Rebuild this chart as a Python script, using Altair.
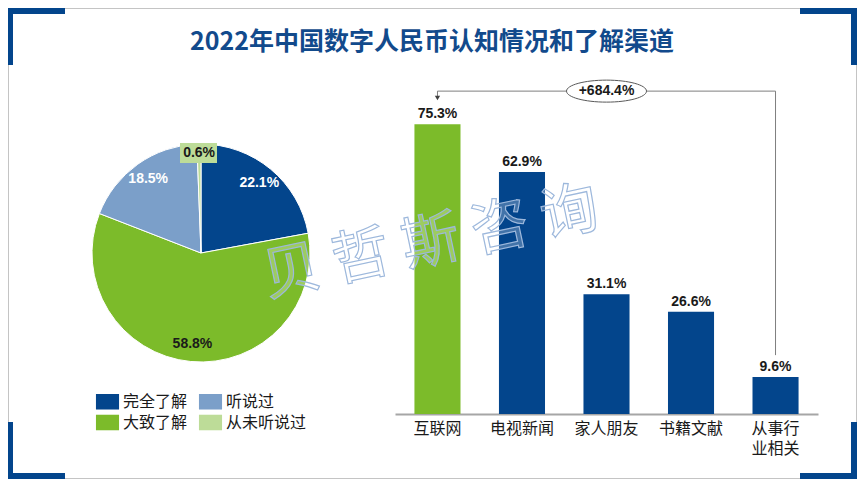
import altair as alt
import pandas as pd

# 认知情况（饼图）
aware_cat = ['完全了解', '大致了解', '听说过', '从未听说过']
aware_pct = [22.1, 58.8, 18.5, 0.6]

# 了解渠道（柱状图）
channel_cat = ['互联网', '电视新闻', '家人朋友', '书籍文献', '从事行业相关']
channel_pct = [75.3, 62.9, 31.1, 26.6, 9.6]
growth_label = '+684.4%'

title_text = '2022年中国数字人民币认知情况和了解渠道'
watermark = '贝 哲 斯 咨 询'

BLUE = '#03458C'
GREEN = '#7CBB2A'
LIGHT_BLUE = '#7B9FC9'
LIGHT_GREEN = '#BDDC98'
DARK = '#1a1a1a'
NUM_FONT = 'Liberation Sans'
CJK_FONT = 'Noto Sans CJK SC'

W, H = 849, 471          # whole chart
LEFT_W, RIGHT_W, PANEL_H = 387, 423, 406
CX, CY = 193, 245        # pie centre

pie_df = pd.DataFrame({'cat': aware_cat, 'pct': aware_pct, 'idx': range(len(aware_cat))})
pie_df['label'] = pie_df['pct'].map(lambda v: f'{v:.1f}%')

bar_df = pd.DataFrame({'cat': channel_cat, 'pct': channel_pct})
bar_df['label'] = bar_df['pct'].map(lambda v: f'{v:.1f}%')

top_v = max(channel_pct) + 8.6
bracket_df = pd.DataFrame({
    'cat': [channel_cat[0], channel_cat[0], channel_cat[-1], channel_cat[-1]],
    'pct': [top_v - 1.8, top_v, top_v, min(channel_pct) + 5.7],
    'step': [0, 1, 2, 3],
})
arrow_df = pd.DataFrame({'cat': [channel_cat[0]], 'pct': [top_v - 1.8]})
growth_df = pd.DataFrame({'cat': [channel_cat[2]], 'pct': [top_v], 'label': [growth_label]})

dummy = pd.DataFrame({'k': [0]})


def block(x1, x2, y1, y2, **kw):
    return alt.Chart(dummy).mark_rect(**kw).encode(
        x=alt.value(x1), x2=alt.value(x2), y=alt.value(y1), y2=alt.value(y2))


# ---- frame, corners, title ----
frame = block(0.5, W - 0.5, 0.5, H - 0.5, fillOpacity=0, stroke='#C4C4C4', strokeWidth=1)
corners = [
    block(0, 57, 0, 6, color=BLUE), block(0, 5, 0, 57, color=BLUE),
    block(W - 57, W, 0, 6, color=BLUE), block(W - 6, W, 0, 57, color=BLUE),
    block(0, 5, H - 57, H, color=BLUE), block(0, 57, H - 6, H, color=BLUE),
    block(W - 6, W, H - 57, H, color=BLUE), block(W - 57, W, H - 6, H, color=BLUE),
]
title = alt.Chart(dummy).mark_text(
    text=title_text, font=CJK_FONT, fontSize=25, fontWeight='bold', color='#124A8C'
).encode(x=alt.value(424), y=alt.value(34))

# ---- pie ----
base = alt.Chart(pie_df).encode(
    theta=alt.Theta('pct:Q', stack=True),
    order=alt.Order('idx:O'),
    x=alt.value(CX),
    y=alt.value(CY),
)
arcs = base.mark_arc(outerRadius=109, stroke='white', strokeWidth=1).encode(
    color=alt.Color('cat:N',
                    scale=alt.Scale(domain=aware_cat,
                                    range=[BLUE, GREEN, LIGHT_BLUE, LIGHT_GREEN]),
                    legend=alt.Legend(title=None, orient='none', legendX=89, legendY=383,
                                      columns=2, symbolType='M-1.1,-0.74H1.1V0.74H-1.1Z',
                                      symbolSize=441, symbolStrokeWidth=0, symbolOpacity=1,
                                      labelFont=CJK_FONT, labelFontSize=16, labelColor=DARK,
                                      labelOffset=5, columnPadding=10, rowPadding=2,
                                      padding=0)),
)
labels = base.mark_text(radius=91, font=NUM_FONT, fontWeight='bold', fontSize=14).encode(
    detail='cat:N',
    text=alt.condition(alt.datum.cat == '从未听说过', alt.value(''), 'label:N'),
    color=alt.condition(alt.FieldOneOfPredicate(field='cat', oneOf=['完全了解', '听说过']),
                        alt.value('white'), alt.value(DARK)),
)
small_box = block(CX - 21, CX + 16, CY - 110, CY - 90, color=LIGHT_GREEN)
small_label = base.mark_text(radius=100, font=NUM_FONT, fontWeight='bold', fontSize=14,
                             color=DARK).encode(
    detail='cat:N',
    text=alt.condition(alt.datum.cat == '从未听说过', 'label:N', alt.value('')),
)

left = alt.layer(frame, *corners, title, arcs, labels, small_box, small_label).properties(
    width=LEFT_W, height=PANEL_H)

# ---- bars ----
x_enc = alt.X('cat:N', sort=channel_cat, title=None, bandPosition=0.5)
y_enc = alt.Y('pct:Q', title=None)

bars = alt.Chart(bar_df).mark_bar().encode(
    x=alt.X('cat:N', sort=channel_cat, title=None,
            scale=alt.Scale(paddingInner=0.455, paddingOuter=0.23),
            axis=alt.Axis(labelAngle=0, labelFont=CJK_FONT, labelFontSize=16,
                          labelColor=DARK, labelPadding=6, ticks=False,
                          domainColor='#A6A6A6', domainWidth=2, labelLineHeight=20,
                          labelExpr="datum.label == '从事行业相关' ? ['从事行', '业相关'] : datum.label")),
    y=alt.Y('pct:Q', title=None, scale=alt.Scale(domain=[0, 105.5], nice=False), axis=None),
    color=alt.condition(alt.datum.cat == '互联网', alt.value(GREEN), alt.value(BLUE)),
)
bar_text = alt.Chart(bar_df).mark_text(
    dy=-6, baseline='alphabetic', font=NUM_FONT, fontWeight='bold', fontSize=14, color=DARK
).encode(x=x_enc, y=y_enc, text='label:N')

bracket = alt.Chart(bracket_df).mark_line(color='#7F7F7F', strokeWidth=1).encode(
    x=x_enc, y=y_enc, order='step:Q')
arrow = alt.Chart(arrow_df).mark_point(
    shape='triangle-down', size=28, filled=True, color='#404040', opacity=1
).encode(x=x_enc, y=y_enc)
ellipse = alt.Chart(growth_df).mark_point(
    shape='M-1,0A1,0.275,0,1,1,1,0A1,0.275,0,1,1,-1,0Z', size=6400, filled=True,
    fill='white', stroke='#595959', strokeWidth=1, opacity=1
).encode(x=x_enc, y=y_enc)
growth_text = alt.Chart(growth_df).mark_text(
    font=NUM_FONT, fontWeight='bold', fontSize=14, color=DARK
).encode(x=x_enc, y=y_enc, text='label:N')

wm = alt.Chart(dummy).mark_text(
    text=watermark, angle=348, font=CJK_FONT, fontSize=58, fill='white', fillOpacity=0.25,
    stroke='#9DB8DC', strokeWidth=1.2
).encode(x=alt.value(36), y=alt.value(236))

right = alt.layer(bars, bar_text, bracket, arrow, ellipse, growth_text, wm).properties(
    width=RIGHT_W, height=PANEL_H)

chart = alt.hconcat(left, right, spacing=0, bounds='flush').properties(
    padding=0
).configure_view(strokeWidth=0)

chart.save("out.html", embed_options={"renderer": "svg", "actions": False})
